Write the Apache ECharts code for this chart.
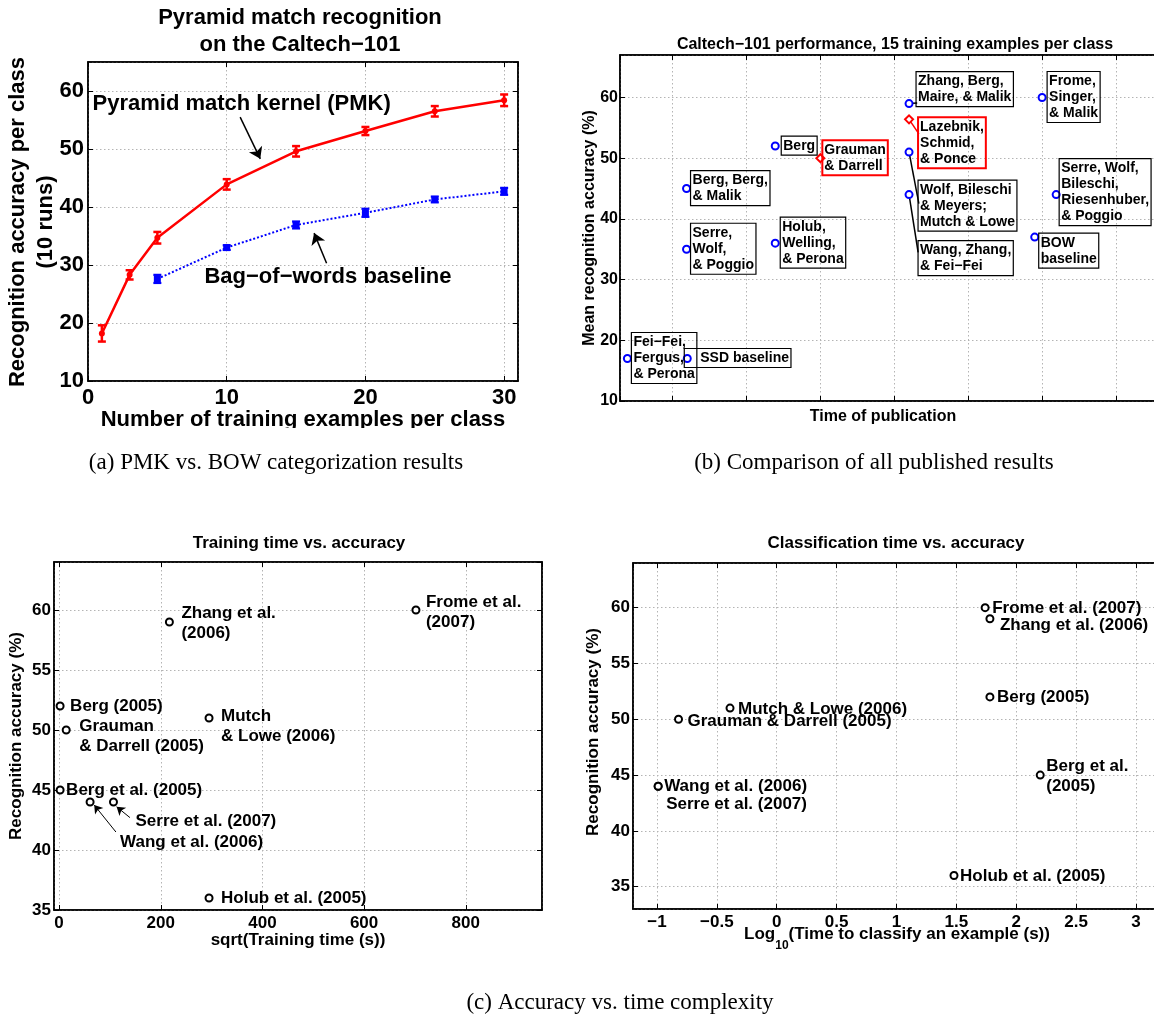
<!DOCTYPE html>
<html>
<head>
<meta charset="utf-8">
<title>Pyramid match recognition on the Caltech-101</title>
<script src="https://cdn.jsdelivr.net/npm/echarts@6.0.0/dist/echarts.min.js"></script>
<style>
  html, body { margin: 0; padding: 0; background: #fff; }
  #chart { width: 1154px; height: 1015px; }
</style>
</head>
<body>
<div id="chart"></div>
<script>
// ---- (a) PMK vs. bag-of-words, mean of 10 runs ----
var trainSizes = [1, 3, 5, 10, 15, 20, 25, 30];
var pmkMean = [18.2, 28.3, 34.7, 43.9, 49.6, 53.1, 56.5, 58.4];
var pmkErr = [1.4, 0.8, 1.0, 0.9, 0.9, 0.7, 0.9, 1.0];
var bowSizes = [5, 10, 15, 20, 25, 30];
var bowMean = [27.6, 33.0, 36.9, 39.0, 41.3, 42.7];
var bowErr = [0.7, 0.4, 0.6, 0.7, 0.5, 0.6];
var notes = ['Pyramid match kernel (PMK)', 'Bag\u2212of\u2212words baseline'];
var noteX = [0.29, 8.36];
var noteY = [57.8, 27.9];
var noteArrows = [[[10.97, 55.5], [12.42, 48.3]], [[17.2, 30.3], [16.3, 35.5]]];

// ---- (b) published results, 15 training examples per class ----
// x is publication time in grid units (no labels on the original)
var pubNames = ['Fei\u2212Fei,\nFergus,\n& Perona', 'SSD baseline', 'Berg, Berg,\n& Malik',
  'Serre,\nWolf,\n& Poggio', 'Berg', 'Holub,\nWelling,\n& Perona', 'Zhang, Berg,\nMaire, & Malik',
  'Wolf, Bileschi\n& Meyers;\nMutch & Lowe', 'Wang, Zhang,\n& Fei\u2212Fei', 'Frome,\nSinger,\n& Malik',
  'Serre, Wolf,\nBileschi,\nRiesenhuber,\n& Poggio', 'BOW\nbaseline'];
var pubTime = [0.39, 1.20, 1.19, 1.19, 2.39, 2.39, 4.2, 4.2, 4.2, 6.0, 6.19, 5.9];
var pubAcc = [17, 17, 45, 35, 52, 36, 59, 51, 44, 60, 44, 37];
var ourNames = ['Grauman\n& Darrell', 'Lazebnik,\nSchmid,\n& Ponce'];
var ourTime = [3.0, 4.2];
var ourAcc = [50, 56.4];
var pubLeaders = [[[4.2, 59], [4.31, 59.1]], [[4.2, 51], [4.333, 42.5]], [[4.2, 44], [4.323, 34.5]]];
var ourLeaders = [[[4.2, 56.4], [4.333, 54.0]]];

// ---- (c) accuracy vs. time complexity ----
var trainNames = ['Zhang et al.\n(2006)', 'Frome et al.\n(2007)', 'Berg (2005)', 'Grauman\n& Darrell (2005)',
  'Mutch\n& Lowe (2006)', 'Berg et al. (2005)', 'Wang et al. (2006)', 'Serre et al. (2007)', 'Holub et al. (2005)'];
var trainSqrtTime = [217, 702, 2, 14, 295, 2, 61, 107, 295];
var trainAcc = [59, 60, 52, 50, 51, 45, 44, 44, 36];
var trainArrows = [[[111.8, 41.5], [69.1, 43.75]], [[139.4, 42.7], [113.2, 43.6]]];

var classNames = ['Frome et al. (2007)', 'Zhang et al. (2006)', 'Berg (2005)', 'Mutch & Lowe (2006)',
  'Grauman & Darrell (2005)', 'Berg et al.\n(2005)', 'Wang et al. (2006)', 'Serre et al. (2007)', 'Holub et al. (2005)'];
var classLogTime = [1.74, 1.78, 1.78, -0.39, -0.82, 2.2, -0.99, -0.99, 1.48];
var classAcc = [60, 59, 52, 51, 50, 45, 44, 44, 36];

// label placement (pixels) -- layout only
var pubBoxOffset = [[5, -25], [-2, -9], [5, -17], [5, -25], [7, -9], [6, -25], [8, -31], [10, 29], [10, 47], [6, -25], [4, -35], [5, -3]];
var ourBoxOffset = [[3, -17], [10, -1]];
var trainLabelOffset = [[11, 1], [9, 2], [9, 0], [12, 6], [11, 8], [5, 0], [29, 40], [21, 19], [11, 0]];
var classLabelOffset = [[6, 1], [9, 7], [6, 0], [7, 1], [8, 2], [5, 1], [5, 0], [7, 18], [5, 1]];

var SANS = '"Liberation Sans", Arial, Helvetica, sans-serif';
var SERIF = '"Liberation Serif", "Times New Roman", serif';
var RED = '#ff0000';
var BLUE = '#0000ff';
var gridLine = {show: true, lineStyle: {color: '#b4b4b4', type: [1.5, 2.5], width: 1}};

function minusFmt(v) {
  return String(v).replace('-', '\u2212');
}

function zip(xs, ys) {
  return xs.map(function (x, i) { return [x, ys[i]]; });
}

function makeAxis(gi, pos, min, max, step, labelSize, labelMargin) {
  var aligned = function (v) { return Math.abs(v / step - Math.round(v / step)) < 1e-9; };
  var mirror = pos === 'top' || pos === 'right';
  return {
    type: 'value', gridIndex: gi, position: pos, min: min, max: max,
    minInterval: step, maxInterval: step,
    axisLine: {show: true, onZero: false, lineStyle: {color: '#000', width: 1.5}},
    axisTick: {show: true, inside: true, length: 5, lineStyle: {color: '#000', width: 1}},
    axisLabel: {
      show: !mirror && labelSize > 0, showMinLabel: aligned(min), showMaxLabel: aligned(max),
      margin: labelMargin, color: '#000', fontFamily: SANS, fontWeight: 'bold', fontSize: labelSize || 12,
      formatter: minusFmt
    },
    splitLine: mirror ? {show: false} : gridLine
  };
}

function errorBars(xs, means, errs, color, width) {
  return {
    type: 'custom', xAxisIndex: 0, yAxisIndex: 0, z: 3,
    encode: {x: 0, y: [1, 2]},
    data: xs.map(function (x, i) { return [x, means[i] - errs[i], means[i] + errs[i]]; }),
    renderItem: function (params, api) {
      var lo = api.coord([api.value(0), api.value(1)]);
      var hi = api.coord([api.value(0), api.value(2)]);
      var w = 4;
      var st = {stroke: color, lineWidth: width};
      return {type: 'group', children: [
        {type: 'line', shape: {x1: lo[0], y1: lo[1], x2: hi[0], y2: hi[1]}, style: st},
        {type: 'line', shape: {x1: lo[0] - w, y1: lo[1], x2: lo[0] + w, y2: lo[1]}, style: st},
        {type: 'line', shape: {x1: hi[0] - w, y1: hi[1], x2: hi[0] + w, y2: hi[1]}, style: st}
      ]};
    }
  };
}

function segments(list, color, width, head) {
  return {
    silent: true, symbol: head ? ['none', 'arrow'] : 'none', symbolSize: head || 0,
    label: {show: false}, itemStyle: {color: color, opacity: 1},
    lineStyle: {color: color, width: width, type: 'solid', opacity: 1},
    data: list.map(function (a) { return [{coord: a[0]}, {coord: a[1]}]; })
  };
}

function boxedPoints(names, xs, ys, offsets, size, boxColor, boxWidth) {
  var r = size / 2;
  return xs.map(function (x, i) {
    var pad = names[i].indexOf('SSD') === 0 ? [2, 2, 1, 16] : [2, 2, 1, 2];
    return {
      name: names[i], value: [x, ys[i]],
      label: {position: [offsets[i][0] + r, offsets[i][1] + r], padding: pad,
        borderColor: boxColor, borderWidth: boxWidth}
    };
  });
}

function labelledPoints(names, xs, ys, offsets) {
  return xs.map(function (x, i) {
    return {name: names[i], value: [x, ys[i]], label: {offset: [offsets[i][0] - 3.5, offsets[i][1]]}};
  });
}

var grids = [
  {left: 88, top: 62, width: 430, height: 319},
  {left: 620, top: 55, width: 550, height: 346},
  {left: 54, top: 562, width: 488, height: 348},
  {left: 633, top: 563, width: 527, height: 346}
].map(function (g) {
  return Object.assign(g, {show: true, borderColor: '#000', borderWidth: 1.5,
    backgroundColor: 'transparent', containLabel: false, outerBoundsMode: 'none'});
});

// per grid: [xmin, xmax, xstep, ymin, ymax, ystep, labelSize, xMargin, yMargin]
var axisSpec = [
  [0, 31, 10, 10, 65, 10, 22, 6, 4],
  [0.29, 7.73, 1, 10, 67, 10, 16, 4, 2],
  [-10, 950, 200, 35, 64, 5, 17, 5, 3],
  [-1.2, 3.2, 0.5, 33, 64, 5, 17, 5, 3]
];
var xAxes = [], yAxes = [];
axisSpec.forEach(function (s, gi) {
  xAxes.push(makeAxis(gi, 'bottom', s[0], s[1], s[2], gi === 1 ? 0 : s[6], s[7]));
  yAxes.push(makeAxis(gi, 'left', s[3], s[4], s[5], s[6], s[8]));
});
axisSpec.forEach(function (s, gi) {
  xAxes.push(makeAxis(gi, 'top', s[0], s[1], s[2], 0, 0));
  yAxes.push(makeAxis(gi, 'right', s[3], s[4], s[5], 0, 0));
});

var pubLabel = {show: true, formatter: '{b}', color: '#000', opacity: 1, fontFamily: SANS, fontWeight: 'bold',
  fontSize: 14, lineHeight: 16};
var rowLabel = {show: true, position: 'right', distance: 0, formatter: '{b}', color: '#000', opacity: 1,
  fontFamily: SANS, fontWeight: 'bold', fontSize: 17, lineHeight: 20};

var option = {
  animation: false,
  backgroundColor: '#fff',
  grid: grids,
  xAxis: xAxes,
  yAxis: yAxes,
  series: [
    // (a)
    {type: 'line', name: 'PMK', xAxisIndex: 0, yAxisIndex: 0, data: zip(trainSizes, pmkMean),
      symbol: 'circle', symbolSize: 6, z: 4,
      lineStyle: {color: RED, width: 2.5}, itemStyle: {color: RED}},
    {type: 'line', name: 'BOW', xAxisIndex: 0, yAxisIndex: 0, data: zip(bowSizes, bowMean),
      symbol: 'rect', symbolSize: 7, z: 4,
      lineStyle: {color: BLUE, width: 2, type: [2, 2]}, itemStyle: {color: BLUE}},
    errorBars(trainSizes, pmkMean, pmkErr, RED, 2.5),
    errorBars(bowSizes, bowMean, bowErr, BLUE, 2.2),
    {type: 'scatter', name: 'notes', xAxisIndex: 0, yAxisIndex: 0, symbolSize: 1,
      itemStyle: {color: '#fff', opacity: 0}, silent: true,
      data: noteX.map(function (x, i) { return {name: notes[i], value: [x, noteY[i]]}; }),
      label: {show: true, position: 'right', distance: 0, formatter: '{b}', color: '#000', opacity: 1,
        fontFamily: SANS, fontWeight: 'bold', fontSize: 22}},
    {type: 'line', name: 'arrows a', xAxisIndex: 0, yAxisIndex: 0, data: [], silent: true,
      markLine: segments(noteArrows, '#000', 1.5, 11)},
    // (b)
    {type: 'scatter', name: 'published', xAxisIndex: 1, yAxisIndex: 1, z: 5,
      symbol: 'emptyCircle', symbolSize: 7,
      itemStyle: {color: BLUE, borderColor: BLUE, borderWidth: 1.8, opacity: 1},
      data: boxedPoints(pubNames, pubTime, pubAcc, pubBoxOffset, 7, '#000', 1.2),
      label: pubLabel,
      markLine: segments(pubLeaders, '#000', 1.5, 0)},
    {type: 'scatter', name: 'pyramid match', xAxisIndex: 1, yAxisIndex: 1, z: 5,
      symbol: 'emptyDiamond', symbolSize: 8,
      itemStyle: {color: RED, borderColor: RED, borderWidth: 1.8, opacity: 1},
      data: boxedPoints(ourNames, ourTime, ourAcc, ourBoxOffset, 8, RED, 2),
      label: pubLabel,
      markLine: segments(ourLeaders, RED, 1.5, 0)},
    // (c) left
    {type: 'scatter', name: 'training', xAxisIndex: 2, yAxisIndex: 2, z: 5,
      symbol: 'emptyCircle', symbolSize: 7,
      itemStyle: {color: '#000', borderColor: '#000', borderWidth: 1.6, opacity: 1},
      data: labelledPoints(trainNames, trainSqrtTime, trainAcc, trainLabelOffset),
      label: rowLabel},
    {type: 'line', name: 'arrows c', xAxisIndex: 2, yAxisIndex: 2, data: [], silent: true,
      markLine: segments(trainArrows, '#000', 1, 8)},
    // (c) right
    {type: 'scatter', name: 'classification', xAxisIndex: 3, yAxisIndex: 3, z: 5,
      symbol: 'emptyCircle', symbolSize: 7,
      itemStyle: {color: '#000', borderColor: '#000', borderWidth: 1.6, opacity: 1},
      data: labelledPoints(classNames, classLogTime, classAcc, classLabelOffset),
      label: rowLabel}
  ],
  graphic: [
    {type: 'text', x: 300, y: 31, z: 50, style: {text: 'Pyramid match recognition\non the Caltech\u2212101',
      fontFamily: SANS, fontWeight: 'bold', fontSize: 22, lineHeight: 27, fill: '#000', align: 'center', verticalAlign: 'middle'}},
    {type: 'text', x: 32, y: 222, rotation: Math.PI / 2, z: 50, style: {text: 'Recognition accuracy per class\n(10 runs)',
      fontFamily: SANS, fontWeight: 'bold', fontSize: 22, lineHeight: 28, fill: '#000', align: 'center', verticalAlign: 'middle'}},
    {type: 'text', x: 303, y: 420, z: 50, style: {text: 'Number of training examples per class',
      fontFamily: SANS, fontWeight: 'bold', fontSize: 22, fill: '#000', align: 'center', verticalAlign: 'middle'}},
    {type: 'rect', z: 60, shape: {x: 0, y: 428, width: 580, height: 16}, style: {fill: '#fff'}},
    {type: 'text', x: 895, y: 45, z: 50, style: {text: 'Caltech\u2212101 performance, 15 training examples per class',
      fontFamily: SANS, fontWeight: 'bold', fontSize: 16, fill: '#000', align: 'center', verticalAlign: 'middle'}},
    {type: 'text', x: 590, y: 228, rotation: Math.PI / 2, z: 50, style: {text: 'Mean recognition accuracy (%)',
      fontFamily: SANS, fontWeight: 'bold', fontSize: 16, fill: '#000', align: 'center', verticalAlign: 'middle'}},
    {type: 'text', x: 883, y: 417, z: 50, style: {text: 'Time of publication',
      fontFamily: SANS, fontWeight: 'bold', fontSize: 16, fill: '#000', align: 'center', verticalAlign: 'middle'}},
    {type: 'text', x: 299, y: 543, z: 50, style: {text: 'Training time vs. accuracy',
      fontFamily: SANS, fontWeight: 'bold', fontSize: 17, fill: '#000', align: 'center', verticalAlign: 'middle'}},
    {type: 'text', x: 896, y: 543, z: 50, style: {text: 'Classification time vs. accuracy',
      fontFamily: SANS, fontWeight: 'bold', fontSize: 17, fill: '#000', align: 'center', verticalAlign: 'middle'}},
    {type: 'text', x: 16, y: 736, rotation: Math.PI / 2, z: 50, style: {text: 'Recognition accuracy (%)',
      fontFamily: SANS, fontWeight: 'bold', fontSize: 17, fill: '#000', align: 'center', verticalAlign: 'middle'}},
    {type: 'text', x: 593, y: 732, rotation: Math.PI / 2, z: 50, style: {text: 'Recognition accuracy (%)',
      fontFamily: SANS, fontWeight: 'bold', fontSize: 17, fill: '#000', align: 'center', verticalAlign: 'middle'}},
    {type: 'text', x: 298, y: 940, z: 50, style: {text: 'sqrt(Training time (s))',
      fontFamily: SANS, fontWeight: 'bold', fontSize: 17, fill: '#000', align: 'center', verticalAlign: 'middle'}},
    {type: 'text', x: 897, y: 939, z: 50, style: {
      text: '{m|Log}{sub|10}{m|(Time to classify an example (s))}',
      align: 'center', verticalAlign: 'middle',
      rich: {
        m: {fontFamily: SANS, fontWeight: 'bold', fontSize: 17, fill: '#000', verticalAlign: 'top', lineHeight: 20},
        sub: {fontFamily: SANS, fontWeight: 'bold', fontSize: 12, fill: '#000', verticalAlign: 'bottom', lineHeight: 26}
      }}},
    {type: 'text', x: 276, y: 463, z: 50, style: {text: '(a) PMK vs. BOW categorization results',
      fontFamily: SERIF, fontSize: 23, fill: '#000', align: 'center', verticalAlign: 'middle'}},
    {type: 'text', x: 874, y: 463, z: 50, style: {text: '(b) Comparison of all published results',
      fontFamily: SERIF, fontSize: 23, fill: '#000', align: 'center', verticalAlign: 'middle'}},
    {type: 'text', x: 620, y: 1003, z: 50, style: {text: '(c) Accuracy vs. time complexity',
      fontFamily: SERIF, fontSize: 23, fill: '#000', align: 'center', verticalAlign: 'middle'}}
  ]
};

var chart = echarts.init(document.getElementById('chart'));
chart.setOption(option);
</script>
</body>
</html>
